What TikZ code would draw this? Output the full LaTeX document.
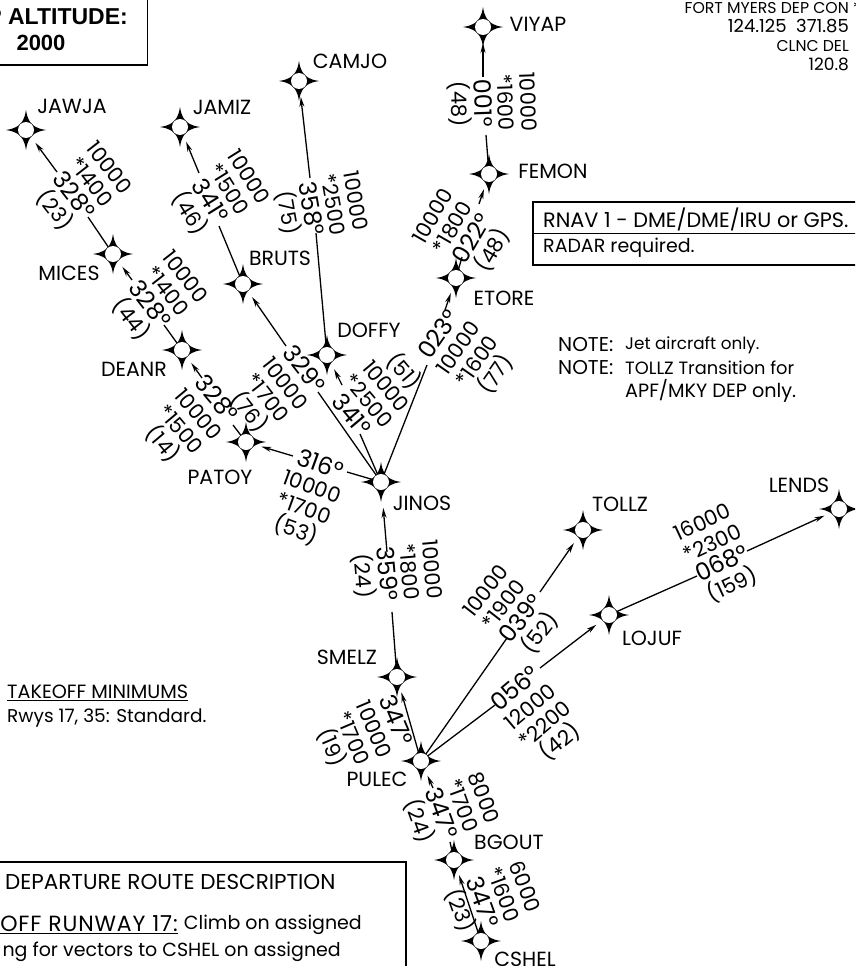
\documentclass[tikz,border=0pt]{standalone}
\usepackage{fontspec}
\usetikzlibrary{arrows.meta}
\setmainfont{Poppins}
\newfontfamily\boldsans{Liberation Sans}[BoldFont={Liberation Sans Bold}]
\newfontfamily\spaced{Poppins}[LetterSpace=4]
\normallineskiplimit=-100pt
\lineskiplimit=-100pt
\newcommand\brg{\fontsize{24}{23}\selectfont}
\tikzset{
  wpt/.style={circle,minimum size=32pt,inner sep=0pt,outer sep=0pt},
  fixname/.style={font=\fontsize{20.5}{22}\selectfont,inner sep=0pt},
  lbl/.style={font=\fontsize{21}{23}\selectfont,align=center,inner sep=0pt},
  plain/.style={font=\fontsize{19}{23}\selectfont,inner sep=0pt},
  seg/.style={line width=1.3pt,black},
  arr/.style={seg,-{Stealth[length=10pt,width=5pt]}},
  wstar/.pic={
    \fill[black] (20,0) .. controls (10,1.5) and (7.5,4.5) .. (6,6)
      .. controls (4.5,7.5) and (1.5,10) .. (0,20)
      .. controls (-1.5,10) and (-4.5,7.5) .. (-6,6)
      .. controls (-7.5,4.5) and (-10,1.5) .. (-20,0)
      .. controls (-10,-1.5) and (-7.5,-4.5) .. (-6,-6)
      .. controls (-4.5,-7.5) and (-1.5,-10) .. (0,-20)
      .. controls (1.5,-10) and (4.5,-7.5) .. (6,-6)
      .. controls (7.5,-4.5) and (10,-1.5) .. (20,0) -- cycle;
    \fill[white] (0,0) circle (8pt);
  }
}
\begin{document}
\begin{tikzpicture}[x=1pt,y=-1pt]
\useasboundingbox (0,0) rectangle (855,966);
\clip (0,0) rectangle (855,966);
\fill[white] (0,0) rectangle (855,966);
% waypoints (anchors for the connectors)
\foreach \n/\x/\y in {VIYAP/483/27,FEMON/489/174,ETORE/456/278,JAWJA/26/130,JAMIZ/180/127,CAMJO/299/81,MICES/113/254,BRUTS/243/284,DEANR/182/350,DOFFY/327/355,PATOY/246/442,JINOS/381/482,SMELZ/397/677,PULEC/421/761,TOLLZ/583/530,LOJUF/609/615,LENDS/839/509,BGOUT/454/860,CSHEL/481/941}
  {\node[wpt] (\n) at (\x,\y) {};}
% connector parts with an arrowhead at the fix
\foreach \k/\x/\y/\t in {a1/57/172/JAWJA,a2/132/280/MICES,a3/202/378/DEANR,a4/199/173/JAMIZ,a5/286/346/BRUTS,a6/310/178/CAMJO,a7/342/385/DOFFY,a8/293/456/PATOY,a9/445/310/ETORE,a10/479/204/FEMON,a11/483/77/VIYAP,a12/433/788/PULEC,a13/540/592/TOLLZ,a14/540/668/LOJUF,a15/747/551/LENDS}
  {\coordinate (\k) at (\x,\y); \draw[arr] (\k) -- (\t);}
\coordinate (a16) at (387,552); \draw[arr,shorten >=10pt] (a16) -- (JINOS);
\draw[arr] (PULEC.center) -- (SMELZ);
\draw[arr] (CSHEL.center) -- (BGOUT);
% connector parts running into the fix
\foreach \k/\x/\y/\t in {b1/88/217/MICES,b2/164/325/DEANR,b3/233/425/PATOY,b4/219/226/BRUTS,b5/318/392/JINOS,b6/316/233/DOFFY,b7/360/434/JINOS,b8/347/472/JINOS,b9/427/365/JINOS,b10/462/257/ETORE,b11/486/135/FEMON,b12/392/612/SMELZ,b13/450/842/BGOUT,b14/507/638/PULEC,b15/495/705/PULEC,b16/697/576/LOJUF}
  {\coordinate (\k) at (\x,\y); \draw[seg] (\k) -- (\t.center);}
% fix symbols
\foreach \n in {VIYAP,FEMON,ETORE,JAWJA,JAMIZ,CAMJO,MICES,BRUTS,DEANR,DOFFY,PATOY,JINOS,SMELZ,PULEC,TOLLZ,LOJUF,LENDS,BGOUT,CSHEL}
  {\path (\n.center) pic {wstar};}
% fix names
\foreach \n/\x/\y in {JAWJA/72/106,JAMIZ/222/107,CAMJO/350/61,MICES/69/273,BRUTS/280/258,DEANR/134/369,DOFFY/369/330,PATOY/220/477,JINOS/422/503,VIYAP/538/24,FEMON/553/171,ETORE/504/298,TOLLZ/620/504,LENDS/799/485,LOJUF/652/638,SMELZ/347/657,PULEC/377/779,BGOUT/509/842,CSHEL/525/959}
  {\node[fixname] (t\n) at (\x,\y) {\n};}
% route data
\node[lbl,rotate=-52] (r1) at (81,190) {10000\\*1400\\{\brg 328°}\\(23)};
\node[lbl,rotate=-58] (r2) at (218,196) {10000\\*1500\\{\brg 341°}\\(46)};
\node[lbl,rotate=-80] (r3) at (320,207) {10000\\*2500\\{\brg 358°}\\(75)};
\node[lbl,rotate=-52] (r4) at (157,299) {10000\\*1400\\{\brg 328°}\\(44)};
\node[lbl,rotate=-50] (r5) at (189,422) {{\brg 328°}\\10000\\*1500\\(14)};
\node[lbl,rotate=-52] (r6) at (276,391) {{\brg 329°}\\10000\\*1700\\(76)};
\node[lbl,rotate=-50] (r7) at (379,392) {(51)\\10000\\*2500\\{\brg 341°}};
\node[lbl,rotate=55] (r8) at (468,355) {{\brg 023°}\\10000\\*1600\\(77)};
\node[lbl,rotate=60] (r9) at (464,234) {10000\\*1800\\{\brg 022°}\\(48)};
\node[lbl,rotate=-88] (r10) at (492,103) {10000\\*1600\\{\brg 001°}\\(48)};
\node[lbl,rotate=-20] (r11) at (308,498) {{\brg 316°}\\10000\\*1700\\(53)};
\node[lbl,rotate=-85] (r12) at (396,573) {10000\\*1800\\{\brg 359°}\\(24)};
\node[lbl,rotate=-67] (r13) at (363,734) {{\brg 347°}\\10000\\*1700\\(19)};
\node[lbl,rotate=-70] (r14) at (450,810) {8000\\*1700\\{\brg 347°}\\(24)};
\node[lbl,rotate=-70] (r15) at (491,899) {6000\\*1600\\{\brg 347°}\\(23)};
\node[lbl,rotate=52] (r16) at (514,613) {10000\\*1900\\{\brg 039°}\\(52)};
\node[lbl,rotate=40] (r17) at (538,716) {{\brg 056°}\\12000\\*2200\\(42)};
\node[lbl,rotate=25] (r18) at (718,555) {16000\\*2300\\{\brg 068°}\\(159)};
% top-left box
\draw[line width=1.1pt] (-5,65) -- (147.5,65) -- (147.5,-5);
\node[inner sep=0pt,anchor=east,font=\boldsans\bfseries\fontsize{23}{24}\selectfont] (alt1) at (128,17) {P ALTITUDE:};
\node[inner sep=0pt,font=\boldsans\bfseries\fontsize{22}{24}\selectfont] (alt2) at (41,43) {2000};
% frequencies
\node[plain,font=\fontsize{15.7}{19}\selectfont,align=right,anchor=north east] (freq) at (849,2) {FORT MYERS DEP CON\rlap{ *}\\{\fontsize{18}{19}\selectfont 124.125 \ 371.85}\\CLNC DEL\\{\fontsize{17}{19}\selectfont 120.8}};
% RNAV box
\draw[line width=1.1pt] (860,202) -- (533,202) -- (533,265) -- (860,265);
\draw[line width=1.1pt] (533,233.5) -- (860,233.5);
\node[plain,anchor=west,font=\fontsize{20.8}{23}\selectfont] (rnav) at (543,219) {RNAV 1 - DME/DME/IRU or GPS.};
\node[plain,anchor=west] (radar) at (543,248) {RADAR required.};
% notes
\node[plain,anchor=west,font=\fontsize{20}{23}\selectfont] (n1) at (558,345) {NOTE:};
\node[plain,anchor=west,font=\fontsize{16.8}{23}\selectfont] (n1b) at (625,345) {Jet aircraft only.};
\node[plain,anchor=west,font=\fontsize{20}{23}\selectfont] (n2) at (558,368) {NOTE:};
\node[plain,anchor=west,font=\fontsize{17.8}{23}\selectfont] (n2b) at (625,368) {TOLLZ Transition for};
\node[plain,anchor=west,font=\fontsize{19.2}{23}\selectfont] (n3) at (625,391) {APF/MKY DEP only.};
% takeoff minimums
\node[plain,anchor=west,font=\fontsize{19.2}{23}\selectfont] (tm) at (7,693) {\underline{TAKEOFF MINIMUMS}};
\node[plain,anchor=west,font=\fontsize{18.5}{23}\selectfont] (tm2) at (7,718) {Rwys 17, 35: Standard.};
% departure route description
\draw[line width=2pt] (-5,862) -- (406,862) -- (406,975);
\node[plain,anchor=west,font=\fontsize{21.5}{23}\selectfont] (dr) at (5,882) {DEPARTURE ROUTE DESCRIPTION};
\node[plain,anchor=east,font=\spaced\fontsize{22}{23}\selectfont] (d1a) at (178,925) {\underline{OFF RUNWAY 17:}};
\node[plain,anchor=east] (d1) at (362,925) {Climb on assigned};
\node[plain,anchor=east] (d2) at (341,952) {ng for vectors to CSHEL on assigned};
\end{tikzpicture}
\end{document}
